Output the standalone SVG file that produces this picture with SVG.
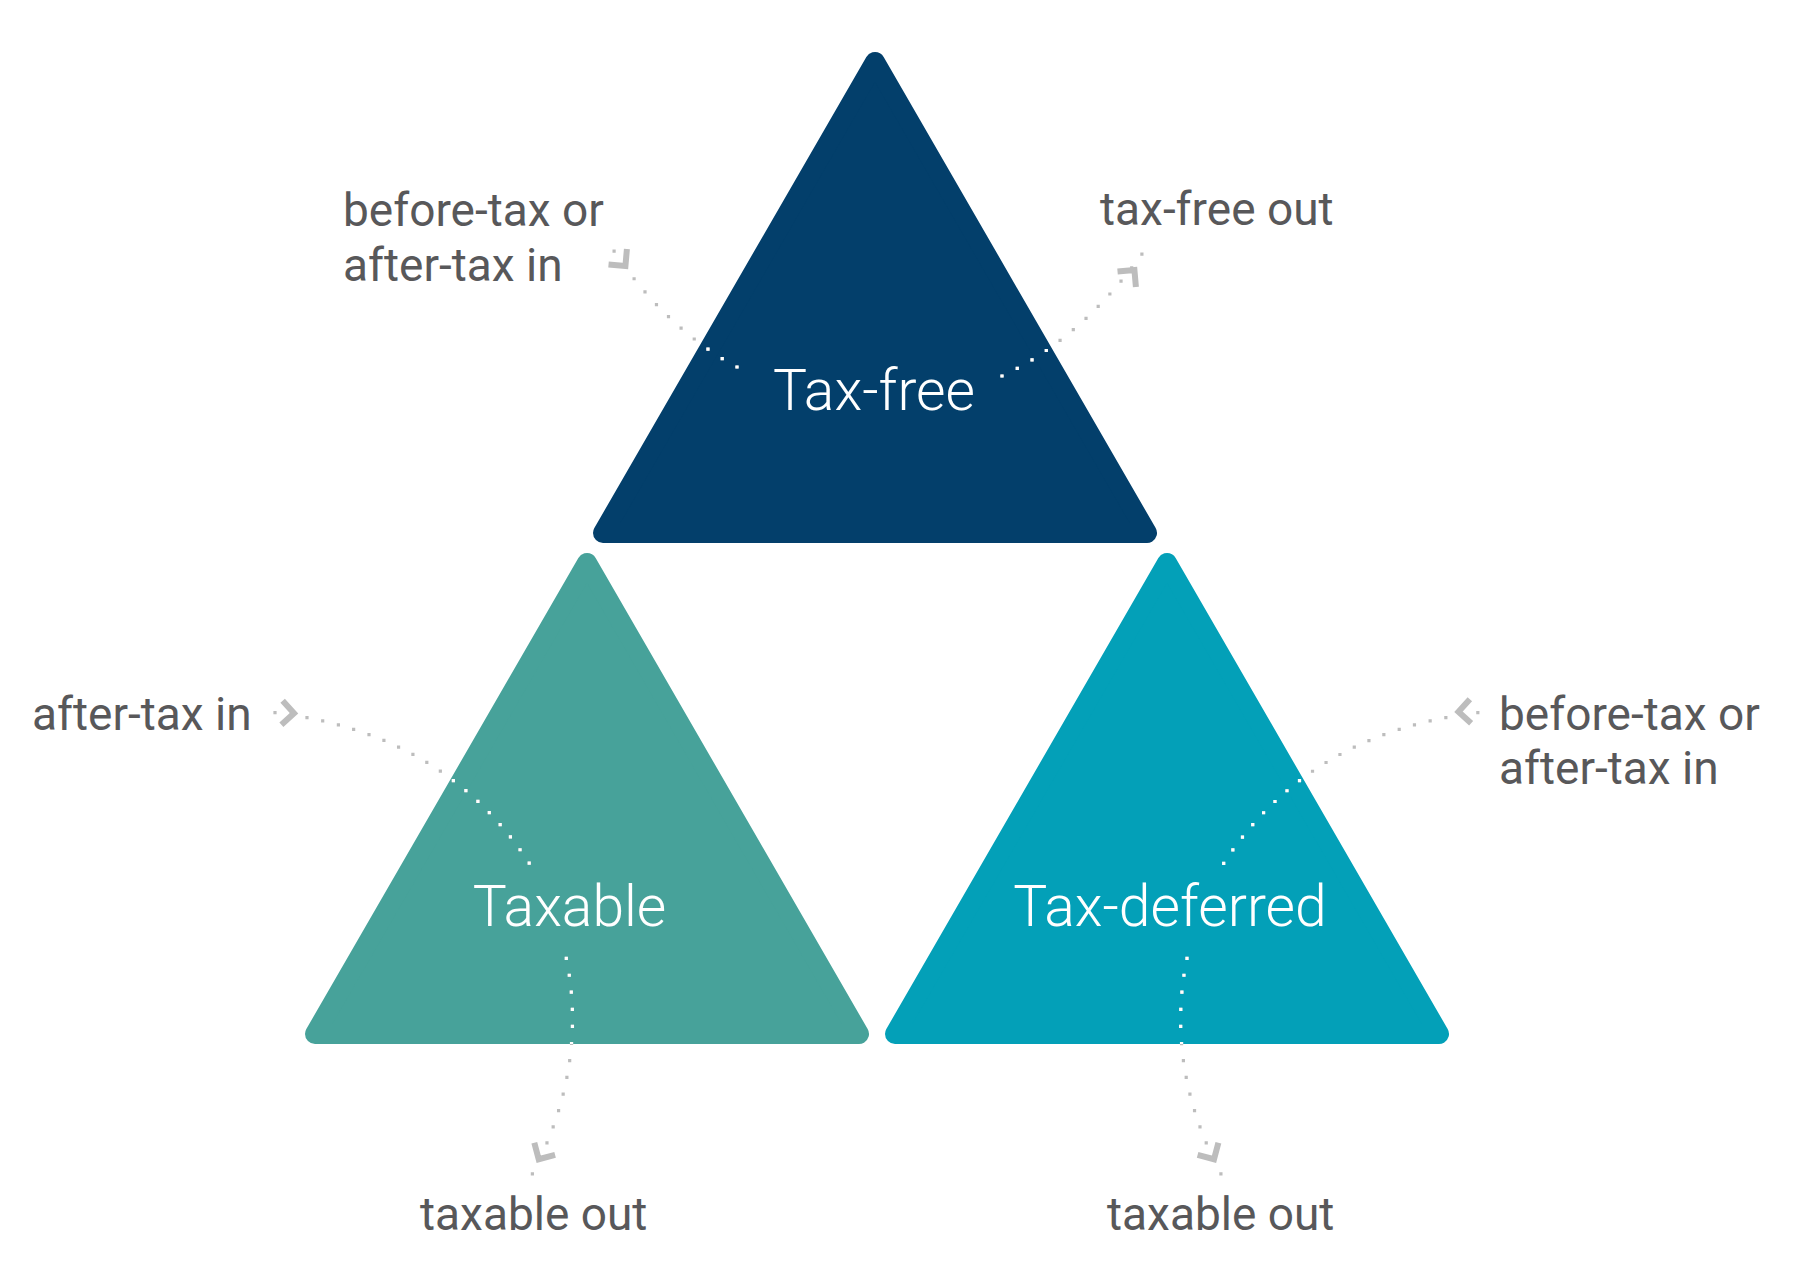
<svg xmlns="http://www.w3.org/2000/svg" xmlns:xlink="http://www.w3.org/1999/xlink" width="1794" height="1276" viewBox="0 0 1794 1276">
  <style>
    .tri { stroke-width: 20; stroke-linejoin: round; }
    .node-label { font-family: Roboto, "Liberation Sans", sans-serif; font-weight: 300; font-size: 57px; fill: #ffffff; text-anchor: middle; }
    .lbl { font-family: Roboto, "Liberation Sans", sans-serif; font-weight: 400; font-size: 46px; fill: #58585A; }
    .dots { fill: none; stroke-width: 3.2; stroke-linecap: square; stroke-dasharray: 0 1; }
    .gray { stroke: #BDBDBD; }
    .white { stroke: #ffffff; }
    .chev { fill: none; stroke: #BDBDBD; stroke-width: 6; stroke-linejoin: miter; stroke-linecap: butt; }
  </style>
  <defs>
    <path id="chev" d="M-16,-12 L-4,0 L-16,12"/>
    <clipPath id="clipTop"><polygon points="875,42 1164.3,543 585.7,543"/></clipPath>
    <clipPath id="clipLeft"><polygon points="587,543 876.3,1044 297.7,1044"/></clipPath>
    <clipPath id="clipRight"><polygon points="1167,543 1456.3,1044 877.7,1044"/></clipPath>
  </defs>
  <rect width="1794" height="1276" fill="#ffffff"/>

  <g id="node-taxfree">
    <polygon class="tri" points="875,62 1147,533 603,533" fill="#033F6B" stroke="#033F6B"/>
    <text class="node-label" x="874" y="410">Tax-free</text>
  </g>
  <g id="node-taxable">
    <polygon class="tri" points="587,563 859,1034 315,1034" fill="#47A29A" stroke="#47A29A"/>
    <text class="node-label" x="569.5" y="926">Taxable</text>
  </g>
  <g id="node-taxdeferred">
    <polygon class="tri" points="1167,563 1439,1034 895,1034" fill="#03A0B8" stroke="#03A0B8"/>
    <text class="node-label" x="1170" y="926">Tax-deferred</text>
  </g>

  <g id="connectors">
    <!-- top-left: before-tax or after-tax in -> Tax-free -->
    <path id="c-tl" class="dots gray" pathLength="10.01" d="M737,367 C688,341 645,298 614,251"/>
    <path class="dots white" pathLength="10.01" clip-path="url(#clipTop)" d="M737,367 C688,341 645,298 614,251"/>
    <use xlink:href="#chev" href="#chev" class="chev" transform="translate(628,269) rotate(50)"/>

    <!-- top-right: Tax-free -> tax-free out -->
    <path id="c-tr" class="dots gray" pathLength="11.01" d="M1002,376 C1060,349 1106,304 1142,254"/>
    <path class="dots white" pathLength="11.01" clip-path="url(#clipTop)" d="M1002,376 C1060,349 1106,304 1142,254"/>
    <use xlink:href="#chev" href="#chev" class="chev" transform="translate(1137,267) rotate(-50)"/>

    <!-- left: after-tax in -> Taxable -->
    <path id="c-l" class="dots gray" pathLength="19.01" d="M275,712.7 Q444.3,732.5 529.3,863.3"/>
    <path class="dots white" pathLength="19.01" clip-path="url(#clipLeft)" d="M275,712.7 Q444.3,732.5 529.3,863.3"/>
    <use xlink:href="#chev" href="#chev" class="chev" transform="translate(298,713.5) rotate(3)"/>

    <!-- right: before-tax or after-tax in -> Tax-deferred -->
    <path id="c-r" class="dots gray" pathLength="19.01" d="M1223.7,863.3 Q1308.7,732.5 1478,712.7"/>
    <path class="dots white" pathLength="19.01" clip-path="url(#clipRight)" d="M1223.7,863.3 Q1308.7,732.5 1478,712.7"/>
    <use xlink:href="#chev" href="#chev" class="chev" transform="translate(1454.5,712) rotate(177)"/>

    <!-- bottom-left: Taxable -> taxable out -->
    <path id="c-bl" class="dots gray" pathLength="13.01" d="M566.3,958.3 C582,1035 567,1108 532.3,1174"/>
    <path class="dots white" pathLength="13.01" clip-path="url(#clipLeft)" d="M566.3,958.3 C582,1035 567,1108 532.3,1174"/>
    <use xlink:href="#chev" href="#chev" class="chev" transform="translate(536.7,1162.7) rotate(120)"/>

    <!-- bottom-right: Tax-deferred -> taxable out -->
    <path id="c-br" class="dots gray" pathLength="13.01" d="M1187,958.3 C1171,1035 1186,1108 1221,1174"/>
    <path class="dots white" pathLength="13.01" clip-path="url(#clipRight)" d="M1187,958.3 C1171,1035 1186,1108 1221,1174"/>
    <use xlink:href="#chev" href="#chev" class="chev" transform="translate(1216,1162.7) rotate(60)"/>
  </g>

  <g id="labels">
    <text class="lbl" x="343" y="226">before-tax or</text>
    <text class="lbl" x="343" y="281">after-tax in</text>
    <text class="lbl" x="1100" y="225">tax-free out</text>
    <text class="lbl" x="32" y="730">after-tax in</text>
    <text class="lbl" x="1499" y="730">before-tax or</text>
    <text class="lbl" x="1499" y="784">after-tax in</text>
    <text class="lbl" x="420" y="1230">taxable out</text>
    <text class="lbl" x="1107" y="1230">taxable out</text>
  </g>
</svg>
